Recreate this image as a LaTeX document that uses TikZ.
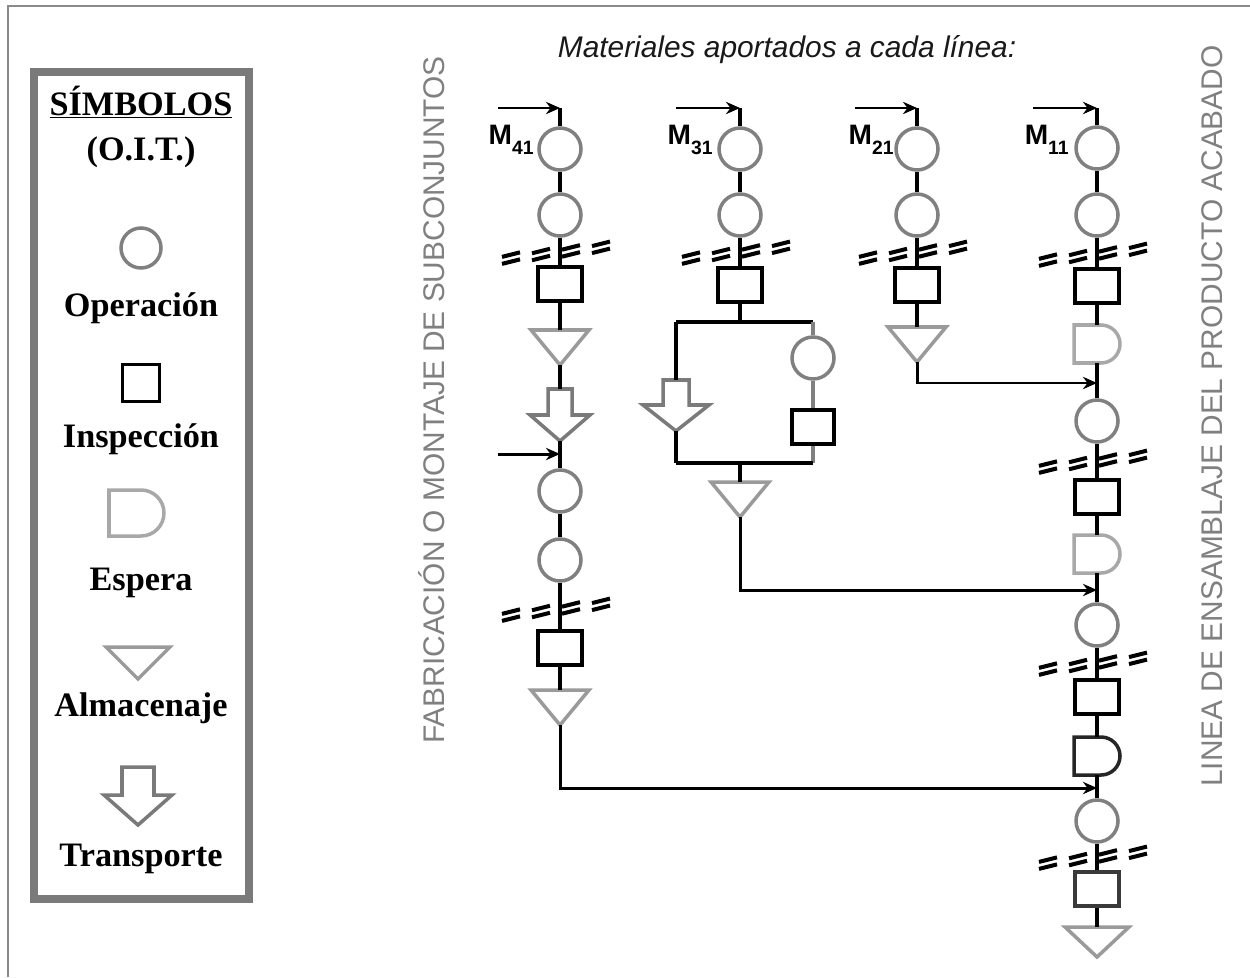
\documentclass[tikz,border=0pt]{standalone}
\usepackage{fontspec}
\setmainfont{Liberation Serif}
\setsansfont{Liberation Sans}
\usetikzlibrary{arrows.meta}

\definecolor{opgray}{HTML}{808080}
\definecolor{trigray}{HTML}{9A9A9A}
\definecolor{waitlight}{HTML}{A8A8A8}
\definecolor{waitdark}{HTML}{262626}
\definecolor{movegray}{HTML}{7A7A7A}
\definecolor{boxgray}{HTML}{7A7A7A}
\definecolor{pagegray}{HTML}{8A8A8A}
\definecolor{sidegray}{HTML}{808080}
\definecolor{insdark}{HTML}{3A3A3A}

\tikzset{
  flow/.style={line width=2pt, black},
  branch/.style={line width=2pt, opgray},
  feed/.style={line width=1.7pt, black, -{Stealth[length=8pt,width=7pt]}},
  opnode/.style={circle, draw=opgray, line width=2pt, minimum size=0.84cm, inner sep=0pt},
  insnode/.style={rectangle, draw=black, line width=2.1pt, minimum width=0.88cm, minimum height=0.68cm, inner sep=0pt},
  legtext/.style={font=\bfseries\fontsize{19.5}{22}\selectfont, inner sep=0pt},
  sidetext/.style={font=\sffamily\fontsize{17}{20}\selectfont, text=sidegray, inner sep=0pt},
  headtext/.style={font=\sffamily\itshape\fontsize{17}{20}\selectfont, text=black!90, inner sep=0pt},
  mlab/.style={font=\sffamily\bfseries\fontsize{16}{17}\selectfont, inner sep=0pt},
  % parameters of the drawn symbols
  tri w/.store in=\triw, tri h/.store in=\trih, tri w=29, tri h=35,
  mv sw/.store in=\mvsw, mv hw/.store in=\mvhw, mv sl/.store in=\mvsl, mv hl/.store in=\mvhl,
  mv sw=12, mv hw=30, mv sl=26, mv hl=26,
  wt l/.store in=\wtl, wt c/.store in=\wtc, wt r/.store in=\wtr, wt col/.store in=\wtcol,
  wt l=-23, wt c=4, wt r=19, wt col=waitlight,
  % storage: downward triangle, top edge at the origin
  storage/.pic={
    \draw[trigray, line width=2pt, line join=miter]
      (-\triw,0) -- (\triw,0) -- (0,\trih) -- cycle;
    \coordinate (-t) at (0,0);
    \coordinate (-b) at (0,\trih);
  },
  % transport: hollow down arrow, top of the shaft at the origin
  transport/.pic={
    \draw[movegray, line width=2pt, line join=miter]
      (-\mvsw,0) -- (\mvsw,0) -- (\mvsw,\mvsl) -- (\mvhw,\mvsl)
      -- (0,\mvsl+\mvhl) -- (-\mvhw,\mvsl) -- (-\mvsw,\mvsl) -- cycle;
    \coordinate (-t) at (0,0);
    \coordinate (-b) at (0,\mvsl+\mvhl);
  },
  % delay: D shape, top edge at the origin
  delay/.pic={
    \draw[\wtcol, line width=2pt]
      (\wtl,0) -- (\wtc,0) arc[start angle=-90, end angle=90, radius=\wtr]
      -- (\wtl,2*\wtr) -- cycle;
    \coordinate (-t) at (0,0);
    \coordinate (-b) at (0,2*\wtr);
  },
  % line-break marks across a flow line
  brk/.pic={
    \foreach \o in {-49,-19,11,41}{
      \draw[line width=2.3pt, black] ({\o-9},{-0.12*\o-1}) -- ({\o+9},{-0.12*\o-5.5});
      \draw[line width=2.3pt, black] ({\o-9},{-0.12*\o+6}) -- ({\o+9},{-0.12*\o+1.5});
    }
  },
}

\begin{document}
\begin{tikzpicture}[x=0.02cm, y=-0.02cm]
\useasboundingbox (0,0) rectangle (1250,977);

% page frame
\draw[pagegray, line width=1.2pt] (8,977) -- (8,6) -- (1250,6);

% ---------------- legend ----------------
\draw[boxgray, line width=4.5pt] (34,72) rectangle (249,899);
\node[legtext, anchor=base] (lgA) at (141,115) {\underline{SÍMBOLOS}};
\node[legtext, anchor=base] (lgB) at (141,160) {(O.I.T.)};
\node[opnode, minimum size=0.8cm] (lgop) at (141,248) {};
\node[legtext, anchor=base] (lgC) at (141,316) {Operación};
\node[insnode, minimum width=0.74cm, minimum height=0.74cm] (lgin) at (141,383) {};
\node[legtext, anchor=base] (lgD) at (141,447) {Inspección};
\pic[wt l=-32, wt c=0, wt r=23] (lgwt) at (141,490) {delay};
\node[legtext, anchor=base] (lgE) at (141,590) {Espera};
\pic[tri w=32, tri h=32] (lgst) at (138,647) {storage};
\node[legtext, anchor=base] (lgF) at (141,716) {Almacenaje};
\pic[mv sw=16, mv hw=34, mv sl=28, mv hl=30] (lgmv) at (138,767) {transport};
\node[legtext, anchor=base] (lgG) at (141,866) {Transporte};

% ---------------- headings ----------------
\node[headtext] (head) at (787,50) {Materiales aportados a cada línea:};
\node[sidetext, rotate=90] (sideL) at (432,400) {FABRICACIÓN O MONTAJE DE SUBCONJUNTOS};
\node[sidetext, rotate=90] (sideR) at (1212,416) {LINEA DE ENSAMBLAJE DEL PRODUCTO ACABADO};

% material labels
\node[mlab, anchor=base east] (M4) at (534,144) {M\raisebox{-6pt}{\fontsize{11}{12}\selectfont 41}};
\node[mlab, anchor=base east] (M3) at (713,144) {M\raisebox{-6pt}{\fontsize{11}{12}\selectfont 31}};
\node[mlab, anchor=base east] (M2) at (894,144) {M\raisebox{-6pt}{\fontsize{11}{12}\selectfont 21}};
\node[mlab, anchor=base east] (M1) at (1069,144) {M\raisebox{-6pt}{\fontsize{11}{12}\selectfont 11}};

% ---------------- line 4 (x = 560) ----------------
\coordinate (m4) at (498,108);
\coordinate (t4) at (560,108);
\node[opnode] (c41) at (560,149) {};
\node[opnode] (c42) at (560,215) {};
\node[insnode] (s41) at (560,284) {};
\pic (g41) at (560,330) {storage};
\pic (v4) at (560,389) {transport};
\coordinate (f4) at (498,454);
\coordinate (f4t) at (560,454);
\node[opnode] (c43) at (560,491) {};
\node[opnode] (c44) at (560,560) {};
\node[insnode] (s42) at (560,648) {};
\pic (g42) at (560,690) {storage};
\pic at (560,252) {brk};
\pic at (560,609) {brk};

% ---------------- line 3 (x = 740) ----------------
\coordinate (m3) at (676,108);
\coordinate (t3) at (740,108);
\node[opnode] (c31) at (740,149) {};
\node[opnode] (c32) at (740,215) {};
\node[insnode] (s31) at (740,285) {};
\coordinate (k3) at (740,322);
\coordinate (kl) at (676,322);
\coordinate (kr) at (813,322);
\pic[mv sw=13, mv hw=33, mv sl=25, mv hl=26] (v3) at (676,380) {transport};
\node[opnode] (c33) at (813,358) {};
\node[insnode, minimum width=0.84cm] (s33) at (813,427) {};
\coordinate (bl) at (676,463);
\coordinate (bm) at (740,463);
\coordinate (br) at (813,463);
\pic (g3) at (740,482) {storage};
\pic at (740,252) {brk};

% ---------------- line 2 (x = 917) ----------------
\coordinate (m2) at (855,108);
\coordinate (t2) at (917,108);
\node[opnode] (c21) at (917,149) {};
\node[opnode] (c22) at (917,215) {};
\node[insnode] (s21) at (917,285) {};
\pic (g2) at (917,327) {storage};
\pic at (917,252) {brk};

% ---------------- line 1 (x = 1097) ----------------
\coordinate (m1) at (1033,108);
\coordinate (t1) at (1097,108);
\node[opnode] (c11) at (1097,148) {};
\node[opnode] (c12) at (1097,215) {};
\node[insnode] (s11) at (1097,286) {};
\pic (d1) at (1097,325) {delay};
\node[opnode] (c13) at (1097,421) {};
\node[insnode] (s12) at (1097,497) {};
\pic (d2) at (1097,535) {delay};
\node[opnode] (c14) at (1097,625) {};
\node[insnode] (s13) at (1097,697) {};
\pic[wt col=waitdark] (d3) at (1097,737) {delay};
\node[opnode] (c15) at (1097,821) {};
\node[insnode, draw=insdark] (s14) at (1097,889) {};
\pic[tri w=32, tri h=30] (g1) at (1097,927) {storage};
\pic at (1097,254) {brk};
\pic at (1097,461) {brk};
\pic at (1097,663) {brk};
\pic at (1097,857) {brk};
\coordinate (e2) at (1097,383);
\coordinate (e3) at (1097,590);
\coordinate (e4) at (1097,788);

% ---------------- connectors ----------------
% line 4
\draw[feed] (m4) -- (t4);
\draw[flow] (t4) -- (c41);
\draw[flow] (c41) -- (c42);
\draw[flow] (c42) -- (s41);
\draw[flow] (s41) -- (g41-t);
\draw[flow] (g41-b) -- (v4-t);
\draw[flow] (v4-b) -- (c43);
\draw[feed] (f4) -- (f4t);
\draw[flow] (c43) -- (c44);
\draw[flow] (c44) -- (s42);
\draw[flow] (s42) -- (g42-t);
\draw[feed] (g42-b) |- (e4);

% line 3
\draw[feed] (m3) -- (t3);
\draw[flow] (t3) -- (c31);
\draw[flow] (c31) -- (c32);
\draw[flow] (c32) -- (s31);
\draw[flow] (s31) -- (k3);
\draw[flow] (kl) -- (kr);
\draw[flow] (kl) -- (v3-t);
\draw[flow] (v3-b) -- (bl);
\draw[branch] (kr) -- (c33);
\draw[branch] (c33) -- (s33);
\draw[branch] (s33) -- (br);
\draw[flow] (bl) -- (br);
\draw[flow] (bm) -- (g3-t);
\draw[feed] (g3-b) |- (e3);

% line 2
\draw[feed] (m2) -- (t2);
\draw[flow] (t2) -- (c21);
\draw[flow] (c21) -- (c22);
\draw[flow] (c22) -- (s21);
\draw[flow] (s21) -- (g2-t);
\draw[feed] (g2-b) |- (e2);

% line 1
\draw[feed] (m1) -- (t1);
\draw[flow] (t1) -- (c11);
\draw[flow] (c11) -- (c12);
\draw[flow] (c12) -- (s11);
\draw[flow] (s11) -- (d1-t);
\draw[flow] (d1-b) -- (c13);
\draw[flow] (c13) -- (s12);
\draw[flow] (s12) -- (d2-t);
\draw[flow] (d2-b) -- (c14);
\draw[flow] (c14) -- (s13);
\draw[flow] (s13) -- (d3-t);
\draw[flow] (d3-b) -- (c15);
\draw[flow] (c15) -- (s14);
\draw[flow] (s14) -- (g1-t);
\end{tikzpicture}
\end{document}
